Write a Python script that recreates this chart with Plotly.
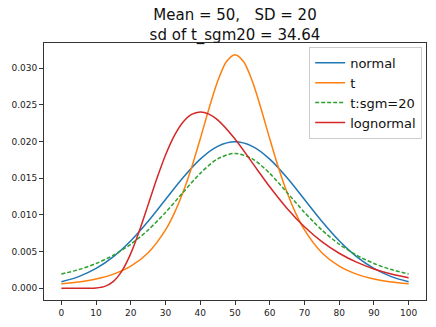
import plotly.graph_objects as go

# Densities of a variable with mean 50 and SD 20 under four models
x_normal = [0, 5, 10, 15, 20, 25, 30, 35, 40, 45, 50, 55, 60, 65, 70, 75, 80, 85, 90, 95, 100]
y_normal = [0.000876, 0.001587, 0.002700, 0.004314, 0.006476, 0.009132, 0.012099, 0.015057,
            0.017603, 0.019333, 0.019947, 0.019333, 0.017603, 0.015057, 0.012099, 0.009132,
            0.006476, 0.004314, 0.002700, 0.001587, 0.000876]

x_t = [0, 5, 10, 15, 20, 25, 30, 32.5, 35, 37.5, 40, 42.5, 45, 47.5, 50, 52.5, 55, 57.5, 60,
       62.5, 65, 67.5, 70, 75, 80, 85, 90, 95, 100]
y_t = [0.000606, 0.000866, 0.001273, 0.001929, 0.003014, 0.004848, 0.007958, 0.010211,
       0.013038, 0.016460, 0.020372, 0.024466, 0.028196, 0.030859, 0.031831, 0.030859,
       0.028196, 0.024466, 0.020372, 0.016460, 0.013038, 0.010211, 0.007958, 0.004848,
       0.003014, 0.001929, 0.001273, 0.000866, 0.000606]

x_tsgm = [0, 5, 10, 15, 20, 25, 30, 35, 40, 45, 50, 55, 60, 65, 70, 75, 80, 85, 90, 95, 100]
y_tsgm = [0.001933, 0.002544, 0.003376, 0.004500, 0.006001, 0.007946, 0.010338, 0.013033,
          0.015659, 0.017636, 0.018378, 0.017636, 0.015659, 0.013033, 0.010338, 0.007946,
          0.006001, 0.004500, 0.003376, 0.002544, 0.001933]

x_lognorm = [0, 5, 7.5, 10, 12.5, 15, 17.5, 20, 22.5, 25, 27.5, 30, 32.5, 35, 37.5, 40, 42.5,
             45, 50, 55, 60, 65, 70, 75, 80, 85, 90, 95, 100]
y_lognorm = [0.0, 0.0, 0.000002, 0.000037, 0.000251, 0.000937, 0.002396, 0.004748, 0.007861,
             0.011396, 0.014951, 0.018161, 0.020762, 0.022613, 0.023684, 0.024024, 0.023733,
             0.022936, 0.020329, 0.017090, 0.013827, 0.010877, 0.008381, 0.006360, 0.004773,
             0.003552, 0.002629, 0.001938, 0.001424]

x_ticks = [0, 10, 20, 30, 40, 50, 60, 70, 80, 90, 100]
y_ticks = [0.000, 0.005, 0.010, 0.015, 0.020, 0.025, 0.030]

series = [
    ("normal", x_normal, y_normal, "#1f77b4", "solid"),
    ("t", x_t, y_t, "#ff7f0e", "solid"),
    ("t:sgm=20", x_tsgm, y_tsgm, "#2ca02c", "4px,2px"),
    ("lognormal", x_lognorm, y_lognorm, "#d62728", "solid"),
]

fig = go.Figure()
for name, xs, ys, color, dash in series:
    fig.add_trace(go.Scatter(
        x=xs, y=ys, name=name, mode="lines",
        line=dict(color=color, width=1.5, dash=dash, shape="spline", smoothing=0.8),
    ))

axis_common = dict(
    showgrid=False, zeroline=False, showline=True, mirror=True,
    linecolor="#333333", linewidth=1, ticks="outside", ticklen=4,
    tickcolor="#333333", tickfont=dict(family="DejaVu Sans", size=9, color="#222222"),
)

fig.update_layout(
    width=436, height=327,
    margin=dict(l=44, r=10, t=43, b=27),
    paper_bgcolor="white", plot_bgcolor="white",
    font=dict(family="DejaVu Sans", color="#111111"),
    title=dict(
        text="Mean = 50,   SD = 20<br>sd of t_sgm20 = 34.64",
        x=0.5, xref="paper", xanchor="center",
        y=0.938, yref="container", yanchor="top",
        font=dict(family="DejaVu Sans", size=15, color="#111111"),
    ),
    xaxis=dict(range=[-5, 105], tickvals=x_ticks, **axis_common),
    yaxis=dict(range=[-0.0016, 0.03342], tickvals=y_ticks, tickformat=".3f", **axis_common),
    legend=dict(
        x=0.99, y=0.985, xanchor="right", yanchor="top",
        bgcolor="white", bordercolor="#cccccc", borderwidth=1,
        font=dict(family="DejaVu Sans", size=13, color="#111111"),
        tracegroupgap=0, itemwidth=30,
    ),
    showlegend=True,
)

fig.write_html("out.html")
